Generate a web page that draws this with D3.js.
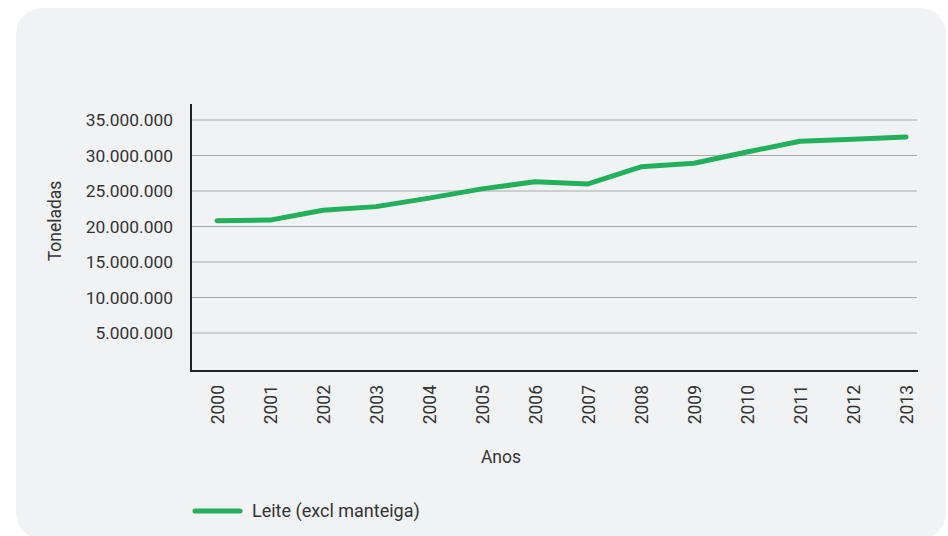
<!DOCTYPE html>
<html><head><meta charset="utf-8">
<script src="https://cdn.jsdelivr.net/npm/d3@7"></script>
<style>body{margin:0;background:#fff;}svg{display:block;}text{font-family:Roboto,"DejaVu Sans",sans-serif;fill:#333;}</style>
</head><body><svg id="c" width="948" height="536"></svg>
<script>
const years = ["2000","2001","2002","2003","2004","2005","2006","2007","2008","2009","2010","2011","2012","2013"];
const leite = [20800000,20900000,22300000,22800000,24000000,25300000,26300000,26000000,28400000,28900000,30500000,32000000,32300000,32600000];
const yTicks = [5000000,10000000,15000000,20000000,25000000,30000000,35000000];
const seriesName = "Leite (excl manteiga)";

const svg = d3.select("#c");
svg.append("rect").attr("x",16).attr("y",8).attr("width",930).attr("height",531).attr("rx",26).attr("fill","#f1f2f4");

const x = d3.scalePoint().domain(years).range([217,906]);
const y = d3.scaleLinear().domain([0,35000000]).range([368.5,120]);
const fmt = v => d3.format(",")(v).replace(/,/g,".");

// gridlines
svg.append("g").selectAll("line").data(yTicks).join("line")
  .attr("x1",191).attr("x2",917).attr("y1",d=>y(d)).attr("y2",d=>y(d))
  .attr("stroke","#a8a8a8").attr("stroke-width",1.2);

// y axis
const ya = svg.append("g").attr("transform","translate(191,0)")
  .call(d3.axisLeft(y).tickValues(yTicks).tickFormat(fmt).tickSize(0).tickPadding(18));
ya.select(".domain").remove();
ya.selectAll("text").style("font-size","17.4px").attr("fill","#333");
svg.append("line").attr("x1",191).attr("x2",191).attr("y1",104).attr("y2",371).attr("stroke","#222").attr("stroke-width",2);

// x axis
svg.append("line").attr("x1",190).attr("x2",918).attr("y1",371).attr("y2",371).attr("stroke","#222").attr("stroke-width",2);
const xa = svg.append("g").attr("transform","translate(0,371)")
  .call(d3.axisBottom(x).tickSize(0).tickPadding(0));
xa.select(".domain").remove();
xa.selectAll("text").attr("transform","rotate(-90)").attr("text-anchor","end")
  .attr("x",-14).attr("y",0).attr("dy","0.35em").style("font-size","17.5px").attr("fill","#333");

// line
svg.append("path").datum(leite)
  .attr("d", d3.line().x((d,i)=>x(years[i])).y(d=>y(d)))
  .attr("fill","none").attr("stroke","#22b05c").attr("stroke-width",5).attr("stroke-linecap","round").attr("stroke-linejoin","round");

// axis titles
svg.append("text").attr("transform","translate(61,221) rotate(-90)").attr("text-anchor","middle").style("font-size","17.5px").text("Toneladas");
svg.append("text").attr("x",501).attr("y",463).attr("text-anchor","middle").style("font-size","17.5px").text("Anos");

// legend
svg.append("line").attr("x1",195).attr("x2",240).attr("y1",511).attr("y2",511).attr("stroke","#22b05c").attr("stroke-width",5).attr("stroke-linecap","round");
svg.append("text").attr("x",252).attr("y",517).style("font-size","18px").text(seriesName);
</script></body></html>
